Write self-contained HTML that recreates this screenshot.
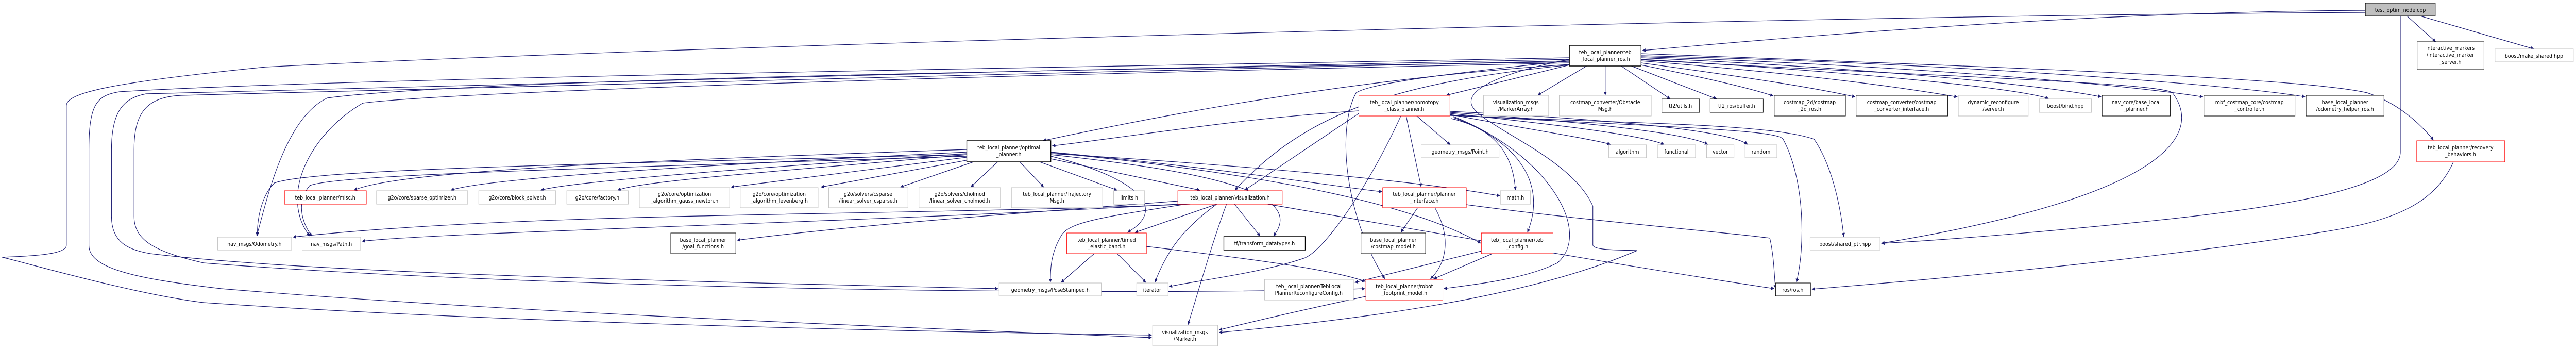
<!DOCTYPE html>
<html><head><meta charset="utf-8"><meta name="viewport" content="width=5822,initial-scale=1"><style>
html,body{margin:0;padding:0;background:#fff;width:100%;height:100%;overflow:hidden}
svg{display:block;overflow:hidden;width:100vw;height:100vh}
text{font-family:"DejaVu Sans","Liberation Sans",sans-serif;font-size:11px;fill:#000;text-anchor:middle}
.e{fill:none;stroke:#191970;stroke-width:1.2}
.g{fill:#fff;stroke:#bfbfbf}
.k{fill:#fff;stroke:#000}
.r{fill:#fff;stroke:#ff0000}
</style></head><body>
<svg viewBox="0 0 5822 677" preserveAspectRatio="none" xmlns="http://www.w3.org/2000/svg">
<defs><marker id="a" viewBox="0 0 10 10" refX="10" refY="5" markerWidth="9" markerHeight="7" markerUnits="userSpaceOnUse" orient="auto"><path d="M0,0L10,5L0,10z" fill="#191970"/></marker></defs>
<g class="e" marker-end="url(#a)">
<path d="M5346 20 C4800 22 4200 60 3712 98"/>
<path d="M5440 31 L5505 81"/>
<path d="M5470 31 L5727 95"/>
<path d="M5346 24 C4000 30 1500 90 600 130 C250 160 150 180 150 205 L150 476 C150 495 60 497 5 499 C60 510 300 570 460 587 C1200 630 2200 645 2603 650"/>
<path d="M5425 31 L5425 295 C5425 360 5200 400 4822 432 C4500 460 4300 470 4252 472"/>
<path d="M3547 112 C2500 130 800 150 270 178 C220 185 201 200 201 290 L201 476 C201 520 300 540 500 560 C1200 610 2200 640 2603 655"/>
<path d="M3547 115 C2500 135 800 165 330 182 C280 190 252 215 252 290 L252 420 C252 470 290 485 340 492 C700 530 1500 545 2256 560"/>
<path d="M3547 118 C2500 140 900 170 410 185 C330 188 303 220 303 290 L303 420 C303 470 360 490 460 510 C1200 560 2500 575 3085 560"/>
<path d="M3547 120 C2000 140 1000 160 740 190 C640 230 600 400 580 458"/>
<path d="M3547 122 C2000 150 1000 180 820 200 C700 260 630 380 700 458"/>
<path d="M3547 125 C3100 150 2700 210 2357 273"/>
<path d="M3071 215 C2800 230 2600 260 2378 283"/>
<path d="M3547 126 C3150 160 2950 220 2791 369"/>
<path d="M3071 220 L2813 369"/>
<path d="M3547 126 L3268 185"/>
<path d="M3586 128 L3475 185"/>
<path d="M3628 128 L3628 185"/>
<path d="M3664 128 L3775 192"/>
<path d="M3687 128 L3880 192"/>
<path d="M3709 126 C3850 150 3950 170 4008 186"/>
<path d="M3709 122 C3950 150 4100 170 4193 188"/>
<path d="M3709 118 C4100 145 4300 170 4424 188"/>
<path d="M3709 115 C4200 140 4550 170 4630 191"/>
<path d="M3709 112 C4300 135 4650 170 4749 188"/>
<path d="M3709 110 C4400 130 4850 170 4979 188"/>
<path d="M3709 108 C4500 125 5100 170 5210 188"/>
<path d="M3709 104 C4500 130 5200 150 5350 180 C5420 200 5470 240 5500 272"/>
<path d="M3709 116 C4400 150 4880 160 4910 180 C4980 260 4900 380 4252 472"/>
<path d="M3547 115 C3400 140 3320 170 3325 200 C3330 240 3550 300 3600 400 L3600 475 C3600 485 3650 485 3700 486 C3500 560 3200 610 2755 645"/>
<path d="M3547 118 C3300 140 3100 160 3065 180 C3020 250 3040 420 3130 541"/>
<path d="M3202 225 L3278 281"/>
<path d="M3178 225 L3212 363"/>
<path d="M3277 222 C3450 250 3600 270 3640 280"/>
<path d="M3277 220 C3500 240 3700 260 3761 280"/>
<path d="M3277 218 C3550 235 3800 255 3860 280"/>
<path d="M3277 216 C3600 230 3900 250 3950 280"/>
<path d="M3280 230 C3380 250 3420 300 3425 369"/>
<path d="M3285 228 C3420 270 3500 350 3452 451"/>
<path d="M3285 226 C3500 300 3600 450 3520 510 C3450 540 3350 550 3263 560"/>
<path d="M3277 224 C3700 240 4000 240 4100 270 C4140 320 4160 400 4167 459"/>
<path d="M3277 223 C3700 245 4020 250 4030 270 C4080 350 4080 480 4060 548"/>
<path d="M3166 225 C3100 350 3000 480 2950 500 C2850 530 2700 545 2642 556"/>
<path d="M3204 403 L3166 451"/>
<path d="M3243 403 C3280 460 3270 510 3233 541"/>
<path d="M3314 397 C3600 430 3900 450 4000 462 C4010 500 4010 540 4013 560"/>
<path d="M2185 290 C1500 310 900 330 800 369"/>
<path d="M2185 295 C1600 320 1100 345 1019 369"/>
<path d="M2185 298 C1800 320 1300 350 1222 369"/>
<path d="M2185 300 C1800 330 1450 350 1396 369"/>
<path d="M2185 305 L1652 363"/>
<path d="M2190 310 L1855 363"/>
<path d="M2200 314 L2035 363"/>
<path d="M2255 314 L2194 363"/>
<path d="M2305 314 L2359 363"/>
<path d="M2350 314 L2525 369"/>
<path d="M2375 308 L2712 369"/>
<path d="M2375 303 C2550 340 2650 400 2548 451"/>
<path d="M2375 300 C2700 330 2960 370 2878 458"/>
<path d="M2375 298 C2800 320 3200 350 3390 380"/>
<path d="M2375 296 C2900 340 3200 400 3347 472"/>
<path d="M2375 295 C2800 330 3000 360 3124 372"/>
<path d="M2185 300 C1200 320 700 330 620 355 C590 380 580 430 582 458"/>
<path d="M2185 303 C1200 330 760 340 700 360 C670 390 680 430 705 458"/>
<path d="M2750 396 L2565 451"/>
<path d="M2680 396 C2500 420 2420 430 2400 455 C2375 490 2374 520 2374 548"/>
<path d="M2750 396 C2680 440 2640 480 2610 548"/>
<path d="M2772 396 C2740 470 2710 560 2685 630"/>
<path d="M2790 396 L2848 458"/>
<path d="M2690 396 C2000 420 1200 410 662 460"/>
<path d="M2662 396 C2000 430 1000 450 818 468"/>
<path d="M2662 390 C2200 420 1900 440 1666 466"/>
<path d="M2865 396 C3300 460 3700 520 4010 560"/>
<path d="M2473 492 L2398 548"/>
<path d="M2525 492 L2590 548"/>
<path d="M2591 478 C2800 500 3000 520 3086 546"/>
<path d="M3373 492 L3240 541"/>
<path d="M3348 487 L3062 548"/>
<path d="M3087 575 C2950 600 2850 620 2755 640"/>
<path d="M5545 314 C5500 400 5400 430 5250 450 C4900 500 4400 540 4095 561"/>
</g>
<rect x="5346" y="6" width="158" height="25" fill="#bfbfbf" stroke="#000"/><text x="5425" y="23">test_optim_node.cpp</text>
<rect class="k" x="3547" y="88" width="162" height="40" stroke="#404040" stroke-width="1.5"/><text x="3628" y="105">teb_local_planner/teb</text><text x="3628" y="118">_local_planner_ros.h</text>
<rect class="k" x="5463" y="81" width="151" height="54"/><text x="5538" y="97">interactive_markers</text><text x="5538" y="110">/interactive_marker</text><text x="5538" y="124">_server.h</text>
<rect class="g" x="5639" y="95" width="177" height="25"/><text x="5727" y="112">boost/make_shared.hpp</text>
<rect class="r" x="3071" y="185" width="206" height="40"/><text x="3174" y="202">teb_local_planner/homotopy</text><text x="3174" y="215">_class_planner.h</text>
<rect class="g" x="3353" y="185" width="147" height="40"/><text x="3426" y="202">visualization_msgs</text><text x="3426" y="215">/MarkerArray.h</text>
<rect class="g" x="3524" y="185" width="208" height="40"/><text x="3628" y="202">costmap_converter/Obstacle</text><text x="3628" y="215">Msg.h</text>
<rect class="k" x="3756" y="192" width="85" height="26"/><text x="3798" y="209">tf2/utils.h</text>
<rect class="k" x="3865" y="192" width="120" height="26"/><text x="3925" y="209">tf2_ros/buffer.h</text>
<rect class="k" x="4010" y="185" width="161" height="40"/><text x="4090" y="202">costmap_2d/costmap</text><text x="4090" y="215">_2d_ros.h</text>
<rect class="k" x="4195" y="185" width="207" height="40"/><text x="4298" y="202">costmap_converter/costmap</text><text x="4298" y="215">_converter_interface.h</text>
<rect class="g" x="4426" y="185" width="158" height="40"/><text x="4505" y="202">dynamic_reconfigure</text><text x="4505" y="215">/server.h</text>
<rect class="g" x="4609" y="192" width="118" height="26"/><text x="4668" y="209">boost/bind.hpp</text>
<rect class="k" x="4751" y="185" width="154" height="40"/><text x="4828" y="202">nav_core/base_local</text><text x="4828" y="215">_planner.h</text>
<rect class="k" x="4981" y="185" width="206" height="40"/><text x="5084" y="202">mbf_costmap_core/costmap</text><text x="5084" y="215">_controller.h</text>
<rect class="k" x="5212" y="185" width="176" height="40"/><text x="5300" y="202">base_local_planner</text><text x="5300" y="215">/odometry_helper_ros.h</text>
<rect class="k" x="2185" y="273" width="190" height="41" stroke="#404040" stroke-width="1.5"/><text x="2280" y="290">teb_local_planner/optimal</text><text x="2280" y="303">_planner.h</text>
<rect class="r" x="5462" y="273" width="199" height="41"/><text x="5561" y="290">teb_local_planner/recovery</text><text x="5561" y="303">_behaviors.h</text>
<rect class="g" x="3212" y="281" width="176" height="25"/><text x="3300" y="298">geometry_msgs/Point.h</text>
<rect class="g" x="3636" y="281" width="85" height="25"/><text x="3678" y="298">algorithm</text>
<rect class="g" x="3746" y="281" width="86" height="25"/><text x="3789" y="298">functional</text>
<rect class="g" x="3857" y="281" width="62" height="25"/><text x="3888" y="298">vector</text>
<rect class="g" x="3944" y="281" width="72" height="25"/><text x="3980" y="298">random</text>
<rect class="r" x="643" y="370" width="185" height="26"/><text x="735" y="387">teb_local_planner/misc.h</text>
<rect class="g" x="851" y="370" width="206" height="26"/><text x="954" y="387">g2o/core/sparse_optimizer.h</text>
<rect class="g" x="1082" y="370" width="174" height="26"/><text x="1169" y="387">g2o/core/block_solver.h</text>
<rect class="g" x="1281" y="370" width="139" height="26"/><text x="1350" y="387">g2o/core/factory.h</text>
<rect class="g" x="1445" y="364" width="204" height="39"/><text x="1547" y="380">g2o/core/optimization</text><text x="1547" y="393">_algorithm_gauss_newton.h</text>
<rect class="g" x="1673" y="364" width="176" height="39"/><text x="1761" y="380">g2o/core/optimization</text><text x="1761" y="393">_algorithm_levenberg.h</text>
<rect class="g" x="1873" y="364" width="179" height="39"/><text x="1962" y="380">g2o/solvers/csparse</text><text x="1962" y="393">/linear_solver_csparse.h</text>
<rect class="g" x="2077" y="364" width="184" height="39"/><text x="2169" y="380">g2o/solvers/cholmod</text><text x="2169" y="393">/linear_solver_cholmod.h</text>
<rect class="g" x="2286" y="364" width="206" height="39"/><text x="2389" y="380">teb_local_planner/Trajectory</text><text x="2389" y="393">Msg.h</text>
<rect class="g" x="2517" y="370" width="70" height="26"/><text x="2552" y="387">limits.h</text>
<rect class="r" x="2662" y="370" width="236" height="26"/><text x="2780" y="387">teb_local_planner/visualization.h</text>
<rect class="r" x="3125" y="364" width="189" height="39"/><text x="3219" y="380">teb_local_planner/planner</text><text x="3219" y="393">_interface.h</text>
<rect class="g" x="3391" y="370" width="68" height="26"/><text x="3425" y="387">math.h</text>
<rect class="g" x="492" y="460" width="167" height="25"/><text x="575" y="477">nav_msgs/Odometry.h</text>
<rect class="g" x="683" y="460" width="132" height="25"/><text x="749" y="477">nav_msgs/Path.h</text>
<rect class="k" x="1516" y="452" width="147" height="40"/><text x="1589" y="469">base_local_planner</text><text x="1589" y="482">/goal_functions.h</text>
<rect class="r" x="2411" y="452" width="180" height="40"/><text x="2501" y="469">teb_local_planner/timed</text><text x="2501" y="482">_elastic_band.h</text>
<rect class="k" x="2766" y="459" width="184" height="26" stroke-width="1.5"/><text x="2858" y="476">tf/transform_datatypes.h</text>
<rect class="k" x="3076" y="452" width="146" height="40"/><text x="3149" y="469">base_local_planner</text><text x="3149" y="482">/costmap_model.h</text>
<rect class="r" x="3348" y="452" width="162" height="40"/><text x="3429" y="469">teb_local_planner/teb</text><text x="3429" y="482">_config.h</text>
<rect class="g" x="4091" y="460" width="158" height="25"/><text x="4170" y="477">boost/shared_ptr.hpp</text>
<rect class="g" x="2258" y="549" width="232" height="25"/><text x="2374" y="566">geometry_msgs/PoseStamped.h</text>
<rect class="g" x="2569" y="549" width="71" height="25"/><text x="2604" y="566">iterator</text>
<rect class="g" x="2858" y="542" width="201" height="40"/><text x="2958" y="559">teb_local_planner/TebLocal</text><text x="2958" y="572">PlannerReconfigureConfig.h</text>
<rect class="r" x="3087" y="542" width="174" height="40"/><text x="3174" y="559">teb_local_planner/robot</text><text x="3174" y="572">_footprint_model.h</text>
<rect class="k" x="4013" y="549" width="79" height="25"/><text x="4052" y="566">ros/ros.h</text>
<rect class="g" x="2605" y="631" width="147" height="40"/><text x="2678" y="648">visualization_msgs</text><text x="2678" y="661">/Marker.h</text>
</svg>
</body></html>
